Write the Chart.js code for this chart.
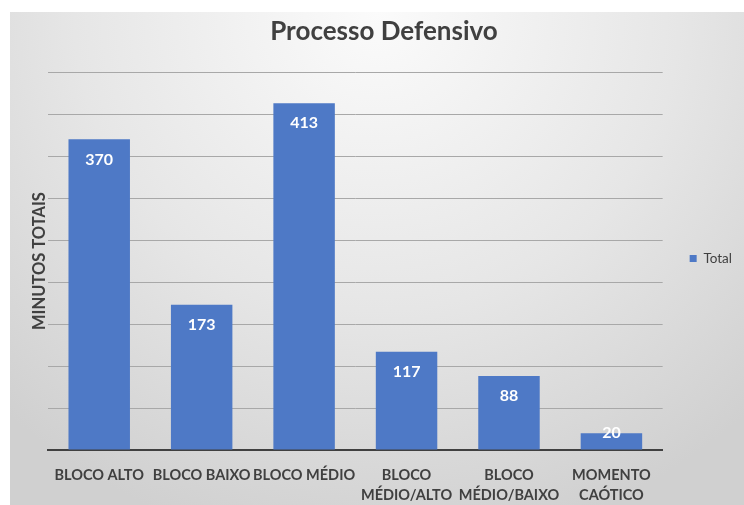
<!DOCTYPE html>
<html>
<head>
<meta charset="utf-8">
<script src="https://cdn.jsdelivr.net/npm/chart.js@4"></script>
<style>
  html, body { margin: 0; padding: 0; background: #ffffff; }
  #wrap {
    position: absolute; left: 10px; top: 12px; width: 734px; height: 493px;
    background: radial-gradient(ellipse 75% 110% at 50% 0%, #fbfbfb 0%, #e6e6e6 55%, #d0d0d0 100%);
  }
  canvas { display: block; }
</style>
</head>
<body>
<div id="wrap"><canvas id="chart" width="734" height="493"></canvas></div>
<script>
// Categories and values
const categories = [
    'BLOCO ALTO',
    'BLOCO BAIXO',
    'BLOCO MÉDIO',
    ['BLOCO', 'MÉDIO/ALTO'],
    ['BLOCO', 'MÉDIO/BAIXO'],
    ['MOMENTO', 'CAÓTICO']
];
const totals = [370, 173, 413, 117, 88, 20];
const yMax = 450;
const yStep = 50;

const textColor = '#404040';
const fontFamily = 'Lato, "Open Sans", sans-serif';

// Value labels inside the top of each bar
const valueLabels = {
    id: 'valueLabels',
    afterDatasetsDraw(chart) {
        const ctx = chart.ctx;
        const meta = chart.getDatasetMeta(0);
        ctx.save();
        ctx.fillStyle = '#ffffff';
        ctx.font = 'bold 16px ' + fontFamily;
        ctx.textAlign = 'center';
        ctx.textBaseline = 'middle';
        meta.data.forEach(function(bar, i) {
            const y = Math.min(bar.y + 20, bar.base - 17);
            ctx.fillText(String(totals[i]), bar.x, y);
        });
        ctx.restore();
    }
};

new Chart(document.getElementById('chart').getContext('2d'), {
    type: 'bar',
    data: {
        labels: categories,
        datasets: [{
            label: 'Total',
            data: totals,
            backgroundColor: '#4e79c6',
            borderWidth: 0,
            barPercentage: 0.6,
            categoryPercentage: 1.0
        }]
    },
    options: {
        responsive: false,
        animation: false,
        layout: {
            padding: { left: 16, right: 2, top: 0, bottom: 0 }
        },
        plugins: {
            title: {
                display: true,
                text: 'Processo Defensivo',
                color: textColor,
                font: { family: fontFamily, size: 26, weight: 'bold' },
                padding: { top: 4, bottom: 25 }
            },
            legend: {
                position: 'right',
                labels: {
                    color: textColor,
                    font: { family: fontFamily, size: 13.5 },
                    boxWidth: 7,
                    boxHeight: 7,
                    padding: 27
                }
            },
            tooltip: { enabled: false }
        },
        scales: {
            x: {
                grid: { display: false, drawTicks: false },
                border: { display: true, color: '#404040', width: 2 },
                ticks: {
                    color: textColor,
                    font: { family: fontFamily, size: 14.5, weight: 'bold', lineHeight: 1.4 },
                    padding: 15,
                    autoSkip: false,
                    maxRotation: 0
                },
                afterFit: function(scale) { scale.height = 55; }
            },
            y: {
                min: 0,
                max: yMax,
                ticks: { display: false, stepSize: yStep },
                grid: { color: '#a8a8a8', lineWidth: 1, drawTicks: false },
                border: { display: false },
                title: {
                    display: true,
                    text: 'MINUTOS TOTAIS',
                    color: textColor,
                    font: { family: fontFamily, size: 16.5, weight: 'bold' },
                    padding: 4
                },
                afterFit: function(scale) { scale.width = 22; }
            }
        }
    },
    plugins: [valueLabels]
});
</script>
</body>
</html>
